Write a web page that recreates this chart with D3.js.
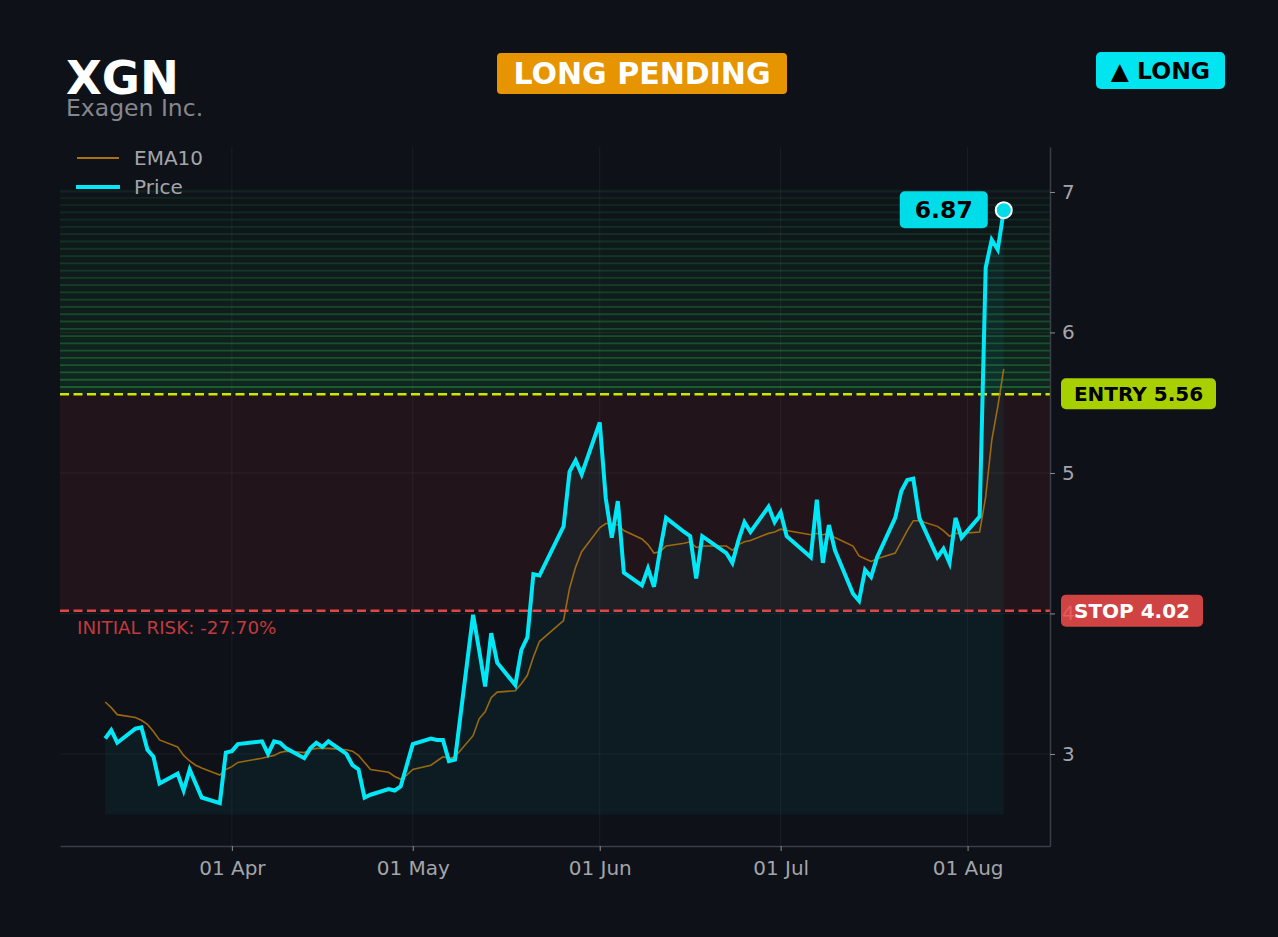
<!DOCTYPE html>
<html>
<head>
<meta charset="utf-8">
<script src="https://cdn.jsdelivr.net/npm/d3@7"></script>
<style>
  html, body { margin: 0; padding: 0; background: #0e1118; }
  svg { display: block; font-family: "DejaVu Sans", sans-serif; }
</style>
</head>
<body>
<div id="chart"></div>
<script>
// Dados do gráfico
const ticker = "XGN";
const company = "Exagen Inc.";
const statusText = "LONG PENDING";
const sideText = "▲ LONG";
const riskText = "INITIAL RISK: -27.70%";
const entry = 5.56;
const stop = 4.02;
const zoneTop = 7.01;
const areaBase = 2.57;
const yTicks = [3, 4, 5, 6, 7];
const yDomain = [2.345, 7.32];
const xDomain = ["2026-03-03T12:00", "2026-08-14T16:00"];

const dates = [
  "2026-03-11","2026-03-12","2026-03-13","2026-03-16","2026-03-17","2026-03-18","2026-03-19","2026-03-20",
  "2026-03-23","2026-03-24","2026-03-25","2026-03-26","2026-03-27","2026-03-30","2026-03-31","2026-04-01",
  "2026-04-02","2026-04-06","2026-04-07","2026-04-08","2026-04-09","2026-04-10","2026-04-13","2026-04-14",
  "2026-04-15","2026-04-16","2026-04-17","2026-04-20","2026-04-21","2026-04-22","2026-04-23","2026-04-24",
  "2026-04-27","2026-04-28","2026-04-29","2026-04-30","2026-05-01","2026-05-04","2026-05-05","2026-05-06",
  "2026-05-07","2026-05-08","2026-05-11","2026-05-12","2026-05-13","2026-05-14","2026-05-15","2026-05-18",
  "2026-05-19","2026-05-20","2026-05-21","2026-05-22","2026-05-26","2026-05-27","2026-05-28","2026-05-29",
  "2026-06-01","2026-06-02","2026-06-03","2026-06-04","2026-06-05","2026-06-08","2026-06-09","2026-06-10",
  "2026-06-11","2026-06-12","2026-06-15","2026-06-16","2026-06-17","2026-06-18","2026-06-22","2026-06-23",
  "2026-06-24","2026-06-25","2026-06-26","2026-06-29","2026-06-30","2026-07-01","2026-07-02","2026-07-06",
  "2026-07-07","2026-07-08","2026-07-09","2026-07-10","2026-07-13","2026-07-14","2026-07-15","2026-07-16",
  "2026-07-17","2026-07-20","2026-07-21","2026-07-22","2026-07-23","2026-07-24","2026-07-27","2026-07-28",
  "2026-07-29","2026-07-30","2026-07-31","2026-08-03","2026-08-04","2026-08-05","2026-08-06","2026-08-07"
];

const price = [
  3.11, 3.17, 3.08, 3.18, 3.19, 3.03, 2.98, 2.79,
  2.86, 2.74, 2.89, 2.79, 2.69, 2.65, 3.01, 3.02,
  3.07, 3.09, 3.00, 3.09, 3.08, 3.04, 2.97, 3.04,
  3.08, 3.05, 3.09, 3.00, 2.92, 2.89, 2.69, 2.71,
  2.75, 2.74, 2.77, 2.92, 3.07, 3.11, 3.10, 3.10,
  2.95, 2.96, 3.99, 3.74, 3.48, 3.86, 3.65, 3.49,
  3.74, 3.83, 4.28, 4.27, 4.62, 5.01, 5.09, 4.99,
  5.36, 4.82, 4.54, 4.80, 4.29, 4.20, 4.32, 4.19,
  4.45, 4.68, 4.58, 4.55, 4.25, 4.55, 4.43, 4.36,
  4.52, 4.65, 4.58, 4.76, 4.65, 4.72, 4.55, 4.40,
  4.81, 4.36, 4.63, 4.45, 4.14, 4.09, 4.31, 4.26,
  4.40, 4.68, 4.87, 4.95, 4.96, 4.68, 4.40, 4.46,
  4.36, 4.68, 4.54, 4.69, 6.46, 6.66, 6.59, 6.87
];

const ema10 = [
  3.37, 3.33, 3.28, 3.26, 3.24, 3.21, 3.16, 3.10,
  3.05, 2.99, 2.95, 2.92, 2.90, 2.85, 2.89, 2.91,
  2.94, 2.97, 2.98, 2.99, 3.01, 3.02, 3.01, 3.03,
  3.04, 3.04, 3.04, 3.03, 3.02, 2.99, 2.94, 2.89,
  2.87, 2.84, 2.82, 2.85, 2.89, 2.92, 2.95, 2.98,
  2.97, 2.98, 3.13, 3.25, 3.30, 3.40, 3.44, 3.45,
  3.50, 3.56, 3.69, 3.80, 3.95, 4.18, 4.33, 4.44,
  4.61, 4.64, 4.64, 4.63, 4.59, 4.53, 4.49, 4.43,
  4.44, 4.48, 4.50, 4.51, 4.47, 4.48, 4.48, 4.45,
  4.49, 4.51, 4.52, 4.57, 4.58, 4.60, 4.59, 4.56,
  4.57, 4.56, 4.57, 4.54, 4.48, 4.41, 4.39, 4.37,
  4.39, 4.43, 4.51, 4.59, 4.66, 4.66, 4.62, 4.59,
  4.55, 4.57, 4.57, 4.58, 4.83, 5.23, 5.47, 5.74
];

// Dimensões
const width = 1278, height = 937;
const plot = { left: 60, right: 1050, top: 147, bottom: 846 };

const parseDay = d3.timeParse("%Y-%m-%d");
const parseDomain = d3.timeParse("%Y-%m-%dT%H:%M");
const points = dates.map((d, i) => ({ date: parseDay(d), price: price[i], ema: ema10[i] }));

const x = d3.scaleTime().domain(xDomain.map(parseDomain)).range([plot.left, plot.right]);
const y = d3.scaleLinear().domain(yDomain).range([plot.bottom, plot.top]);

const svg = d3.select("#chart").append("svg")
  .attr("width", width)
  .attr("height", height);

svg.append("rect").attr("width", width).attr("height", height).attr("fill", "#0e1118");

// Zona de alvo (faixas verdes)
const nBands = 28;
const bandStep = (zoneTop - entry) / nBands;
const bands = d3.range(nBands);
const zone = svg.append("g");
zone.selectAll("rect.band").data(bands).join("rect")
  .attr("class", "band")
  .attr("x", plot.left)
  .attr("width", plot.right - plot.left)
  .attr("y", i => y(entry + bandStep * (i + 1)))
  .attr("height", i => y(entry + bandStep * i) - y(entry + bandStep * (i + 1)))
  .attr("fill", "#22c55e")
  .attr("fill-opacity", i => 0.015 + 0.1 * (1 - i / nBands));
zone.selectAll("line.band").data(bands).join("line")
  .attr("class", "band")
  .attr("x1", plot.left).attr("x2", plot.right)
  .attr("y1", i => y(entry + bandStep * (i + 1)))
  .attr("y2", i => y(entry + bandStep * (i + 1)))
  .attr("stroke", "#2fb34a")
  .attr("stroke-width", 1.8)
  .attr("stroke-opacity", i => 0.09 + 0.3 * (1 - i / nBands));

// Zona de risco
svg.append("rect")
  .attr("x", plot.left)
  .attr("y", y(entry))
  .attr("width", plot.right - plot.left)
  .attr("height", y(stop) - y(entry))
  .attr("fill", "#ef4444")
  .attr("fill-opacity", 0.085);

// Grade
const monthTicks = x.ticks(d3.timeMonth.every(1));
svg.append("g").selectAll("line").data(yTicks).join("line")
  .attr("x1", plot.left).attr("x2", plot.right)
  .attr("y1", d => y(d)).attr("y2", d => y(d))
  .attr("stroke", "#ffffff").attr("stroke-opacity", 0.055);
svg.append("g").selectAll("line").data(monthTicks).join("line")
  .attr("x1", d => x(d)).attr("x2", d => x(d))
  .attr("y1", plot.top).attr("y2", plot.bottom)
  .attr("stroke", "#ffffff").attr("stroke-opacity", 0.055);

// Área sob o preço
const area = d3.area()
  .x(d => x(d.date))
  .y0(y(areaBase))
  .y1(d => y(d.price));
svg.append("path")
  .datum(points)
  .attr("d", area)
  .attr("fill", "#00e5ff")
  .attr("fill-opacity", 0.05);

// Linhas de entrada e stop
svg.append("line")
  .attr("x1", plot.left).attr("x2", plot.right)
  .attr("y1", y(entry)).attr("y2", y(entry))
  .attr("stroke", "#d2e400").attr("stroke-width", 2.5)
  .attr("stroke-dasharray", "9,4.5");
svg.append("line")
  .attr("x1", plot.left).attr("x2", plot.right)
  .attr("y1", y(stop)).attr("y2", y(stop))
  .attr("stroke", "#e04646").attr("stroke-width", 2.5)
  .attr("stroke-dasharray", "9,4.5");

svg.append("text")
  .attr("x", 77).attr("y", y(stop) + 23)
  .attr("fill", "#c4393d")
  .attr("font-size", 18.3)
  .text(riskText);

// Eixo X
const xAxis = svg.append("g")
  .attr("transform", `translate(0,${plot.bottom})`)
  .call(d3.axisBottom(x)
    .ticks(d3.timeMonth.every(1))
    .tickFormat(d3.timeFormat("%d %b"))
    .tickSize(5)
    .tickSizeOuter(0)
    .tickPadding(10));
xAxis.select(".domain").attr("stroke", "#3a3e45").attr("stroke-width", 1.5);
xAxis.selectAll(".tick line").attr("stroke", "#8a8d93");
xAxis.selectAll(".tick text")
  .attr("fill", "#a3a5aa")
  .attr("font-size", 20)
  .attr("font-family", "DejaVu Sans, sans-serif");

// Linhas EMA e preço
const emaLine = d3.line().x(d => x(d.date)).y(d => y(d.ema));
const priceLine = d3.line().x(d => x(d.date)).y(d => y(d.price));

svg.append("path")
  .datum(points)
  .attr("d", emaLine)
  .attr("fill", "none")
  .attr("stroke", "#a8720f")
  .attr("stroke-width", 1.6)
  .attr("stroke-opacity", 0.9);

svg.append("path")
  .datum(points)
  .attr("d", priceLine)
  .attr("fill", "none")
  .attr("stroke", "#00e8f8")
  .attr("stroke-width", 4)
  .attr("stroke-linejoin", "miter");

// Marcador do último preço
const last = points[points.length - 1];
const lx = x(last.date), ly = y(last.price);
svg.append("rect")
  .attr("x", lx - 104).attr("y", ly - 19)
  .attr("width", 88).attr("height", 37).attr("rx", 5)
  .attr("fill", "#00dde9");
svg.append("text")
  .attr("x", lx - 60).attr("y", ly + 8)
  .attr("text-anchor", "middle")
  .attr("font-size", 23.5).attr("font-weight", "bold")
  .attr("fill", "#000")
  .text(last.price.toFixed(2));
svg.append("circle")
  .attr("cx", lx).attr("cy", ly).attr("r", 8)
  .attr("fill", "#00dde9")
  .attr("stroke", "#ffffff").attr("stroke-width", 2);

// Etiquetas de entrada e stop
svg.append("rect")
  .attr("x", 1061).attr("y", y(entry) - 16)
  .attr("width", 155).attr("height", 31).attr("rx", 5)
  .attr("fill", "#a8d000");
svg.append("text")
  .attr("x", 1138.5).attr("y", y(entry) + 7)
  .attr("text-anchor", "middle")
  .attr("font-size", 20).attr("font-weight", "bold")
  .attr("fill", "#000")
  .text(`ENTRY ${entry.toFixed(2)}`);

svg.append("rect")
  .attr("x", 1061).attr("y", y(stop) - 16)
  .attr("width", 142).attr("height", 32).attr("rx", 5)
  .attr("fill", "#d04343");

// Eixo Y (por cima da etiqueta de stop, como na referência)
const yAxis = svg.append("g")
  .attr("transform", `translate(${plot.right},0)`)
  .call(d3.axisRight(y)
    .tickValues(yTicks)
    .tickFormat(d3.format("d"))
    .tickSize(5)
    .tickSizeOuter(0)
    .tickPadding(7));
yAxis.select(".domain").attr("stroke", "#3a3e45").attr("stroke-width", 1.5);
yAxis.selectAll(".tick line").attr("stroke", "#8a8d93");
yAxis.selectAll(".tick text")
  .attr("fill", d => d === 4 ? "#f06a6a" : "#a3a5aa")
  .attr("fill-opacity", d => d === 4 ? 0.7 : 1)
  .attr("font-size", 20)
  .attr("font-family", "DejaVu Sans, sans-serif");

svg.append("text")
  .attr("x", 1132).attr("y", y(stop) + 7)
  .attr("text-anchor", "middle")
  .attr("font-size", 20).attr("font-weight", "bold")
  .attr("fill", "#ffffff")
  .text(`STOP ${stop.toFixed(2)}`);

// Título
svg.append("text")
  .attr("x", 66).attr("y", 94)
  .attr("font-size", 46.5).attr("font-weight", "bold")
  .attr("fill", "#ffffff")
  .text(ticker);
svg.append("text")
  .attr("x", 66).attr("y", 116)
  .attr("font-size", 23.5)
  .attr("fill", "#85878c")
  .text(company);

// Selos
svg.append("rect")
  .attr("x", 497).attr("y", 53)
  .attr("width", 290).attr("height", 41).attr("rx", 4)
  .attr("fill", "#e69500");
svg.append("text")
  .attr("x", 642).attr("y", 84)
  .attr("text-anchor", "middle")
  .attr("font-size", 30).attr("font-weight", "bold")
  .attr("fill", "#ffffff")
  .text(statusText);

svg.append("rect")
  .attr("x", 1096).attr("y", 52)
  .attr("width", 129).attr("height", 37).attr("rx", 5)
  .attr("fill", "#00e5f0");
svg.append("text")
  .attr("x", 1160.5).attr("y", 79)
  .attr("text-anchor", "middle")
  .attr("font-size", 23.5).attr("font-weight", "bold")
  .attr("fill", "#000")
  .text(sideText);

// Legenda
const legend = svg.append("g");
legend.append("line")
  .attr("x1", 77).attr("x2", 119).attr("y1", 158).attr("y2", 158)
  .attr("stroke", "#a8720f").attr("stroke-width", 2);
legend.append("text")
  .attr("x", 134).attr("y", 165)
  .attr("font-size", 20).attr("fill", "#a3a5aa")
  .text("EMA10");
legend.append("line")
  .attr("x1", 76).attr("x2", 120).attr("y1", 187).attr("y2", 187)
  .attr("stroke", "#00e8f8").attr("stroke-width", 4);
legend.append("text")
  .attr("x", 134).attr("y", 194)
  .attr("font-size", 20).attr("fill", "#a3a5aa")
  .text("Price");
</script>
</body>
</html>
